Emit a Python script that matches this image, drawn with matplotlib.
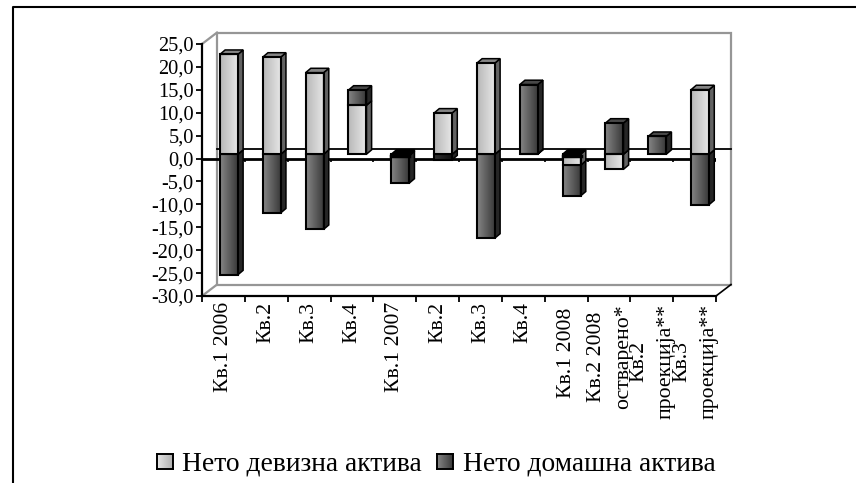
import matplotlib
matplotlib.use('Agg')
import matplotlib.pyplot as plt
from matplotlib.colors import LinearSegmentedColormap
from matplotlib.patches import Polygon, Rectangle
import numpy as np

plt.rcParams['font.family'] = ['Liberation Serif', 'DejaVu Sans']

values_y = [25, 20, 15, 10, 5, 0, -5, -10, -15, -20, -25, -30]
labels = ['Кв.1 2006', 'Кв.2', 'Кв.3', 'Кв.4', 'Кв.1 2007', 'Кв.2', 'Кв.3', 'Кв.4',
          'Кв.1 2008', 'Кв.2 2008\nостварено*', 'Кв.2\nпроекција**', 'Кв.3\nпроекција**']
devizna = [21.8, 21.2, 17.8, 10.7, -0.3, 9.0, 19.9, 0.1, -2.4, -3.3, 0.0, 14.1]
domasna = [-26.3, -12.8, -16.4, 3.3, -6.0, -1.2, -18.3, 15.1, -6.7, 6.8, 3.9, -11.0]
label_drop = [0, 0, 0, 0, 0, 0, 0, 0, 6, 2, 2, 2]

W, H = 856, 483
LIGHT = ('#b8b8b8', '#e6e6e6')
DARK = ('#858585', '#3a3a3a')

fig = plt.figure(figsize=(W / 100, H / 100), dpi=100)
ax = fig.add_axes([202 / W, 1 - 296 / H, 514 / W, 252 / H])
n = len(labels)

# depth of the fake 3d floor and of the bars, in data units
wall_dx, wall_dy = 0.35, 2.5
bar_dx, bar_dy = 0.12, 0.95
bar_w = 0.42
bar_x0 = 0.42
base = 0.95


def gradient(a, extent, c0, c1, z):
    grad = np.linspace(0, 1, 32).reshape(1, -1)
    cmap = LinearSegmentedColormap.from_list('g', [c0, c1])
    a.imshow(grad, extent=extent, cmap=cmap, aspect='auto', zorder=z,
             clip_on=False, interpolation='bilinear')


def draw_box(x, y0, y1, kind, z, black_top=False):
    lo, hi = min(y0, y1), max(y0, y1)
    if kind == 'light':
        front = LIGHT
        side, top = '#626262', '#858585'
    else:
        front = DARK
        side, top = '#262626', '#484848'
    if hi - lo < 2:
        front = ('#303030', '#101010')
    if black_top:
        top = 'black'
    gradient(ax, (x, x + bar_w, lo, hi), front[0], front[1], z)
    ax.add_patch(Rectangle((x, lo), bar_w, hi - lo, fc='none', ec='black', lw=1.5,
                           zorder=z + 0.1, clip_on=False))
    ax.add_patch(Polygon([(x + bar_w, lo), (x + bar_w + bar_dx, lo + bar_dy),
                          (x + bar_w + bar_dx, hi + bar_dy), (x + bar_w, hi)],
                         fc=side, ec='black', lw=1.1, zorder=z, clip_on=False))
    ax.add_patch(Polygon([(x, hi), (x + bar_dx, hi + bar_dy),
                          (x + bar_w + bar_dx, hi + bar_dy), (x + bar_w, hi)],
                         fc=top, ec='black', lw=1.1, zorder=z, clip_on=False))
    if black_top:
        ax.plot([x, x + bar_w], [hi - 0.3, hi - 0.3], color='black', lw=2.5,
                zorder=z + 0.2, clip_on=False)


# back wall and floor
wall = '#969696'
ax.add_patch(Polygon([(wall_dx, -30 + wall_dy), (wall_dx, 25 + wall_dy), (12 + wall_dx, 25 + wall_dy),
                      (12 + wall_dx, -30 + wall_dy)], fc='white', ec=wall, lw=1.6,
                     zorder=1, clip_on=False))
ax.plot([0, wall_dx], [25, 25 + wall_dy], color=wall, lw=1.6, zorder=1, clip_on=False)
ax.plot([0, wall_dx], [-30, -30 + wall_dy], color=wall, lw=1.6, zorder=1, clip_on=False)
ax.plot([12, 12 + wall_dx], [-30, -30 + wall_dy], color='black', lw=1.2, zorder=1, clip_on=False)
# zero line on the back wall
ax.plot([wall_dx, 12 + wall_dx], [wall_dy - 0.35, wall_dy - 0.35], color='black', lw=1.3,
        zorder=1.5, clip_on=False)

for i in range(n):
    x = bar_x0 + i * (12 / n)
    d, m = devizna[i], domasna[i]
    only_neg = max(d, m) <= 0
    neg, pos = 0.0, 0.0
    z = 3 + 0.3 * i
    if d < 0:
        draw_box(x, base, base + d, 'light', z + 0.15, black_top=only_neg)
        neg = d
    if m < 0:
        draw_box(x, base + neg, base + neg + m, 'dark', z)
    if d > 0:
        draw_box(x, base, base + d, 'light', z + 0.18)
        pos = d
    if m > 0:
        draw_box(x, base + pos, base + pos + m, 'dark', z + 0.21)

ax.axhline(0, color='black', lw=2.0, zorder=2.5)
ax.vlines(np.arange(1, n + 1), -0.8, 0, color='black', lw=1.2, zorder=2.5)

for s in ('top', 'right'):
    ax.spines[s].set_visible(False)
for s in ('left', 'bottom'):
    ax.spines[s].set_linewidth(1.6)
ax.set_yticks(values_y)
ax.set_yticklabels([('%.1f' % v).replace('.', ',') for v in values_y], fontsize=14.7)
ax.tick_params(axis='y', length=4, width=1.3, pad=2)
ax.set_xticks(np.arange(0, n + 1))
ax.set_xticklabels([])
ax.tick_params(axis='x', length=4, width=1.3)

for i, lab in enumerate(labels):
    xc = (i + 0.5) * 12 / n + (0.02 if '\n' in lab else 0)
    ax.annotate(lab, (xc, -30), xytext=(0, -6 - label_drop[i]), textcoords='offset pixels',
                rotation=90, ha='center', va='top', ma='center', fontsize=15.7,
                linespacing=1.58, annotation_clip=False)

# legend
for x0, c0, c1 in ((157, '#e6e6e6', '#b0b0b0'), (437, DARK[0], DARK[1])):
    sw = fig.add_axes([x0 / W, 1 - 469 / H, 16 / W, 15 / H])
    gradient(sw, (0, 1, 0, 1), c0, c1, 1)
    sw.set_xticks([])
    sw.set_yticks([])
    for s in sw.spines.values():
        s.set_linewidth(1.4)
fig.text(182 / W, 1 - 471 / H, 'Нето девизна актива', fontsize=19.8, va='baseline')
fig.text(463 / W, 1 - 471 / H, 'Нето домашна актива', fontsize=19.8, va='baseline')

# outer frame, open on the right
fig.add_artist(plt.Line2D([12.5 / W, 12.5 / W, 1], [0, 1 - 7 / H, 1 - 7 / H], color='black', lw=1.5))

ax.set_xlim(0, 12)
ax.set_ylim(-30, 25)
fig.savefig('out.png', dpi=100)
